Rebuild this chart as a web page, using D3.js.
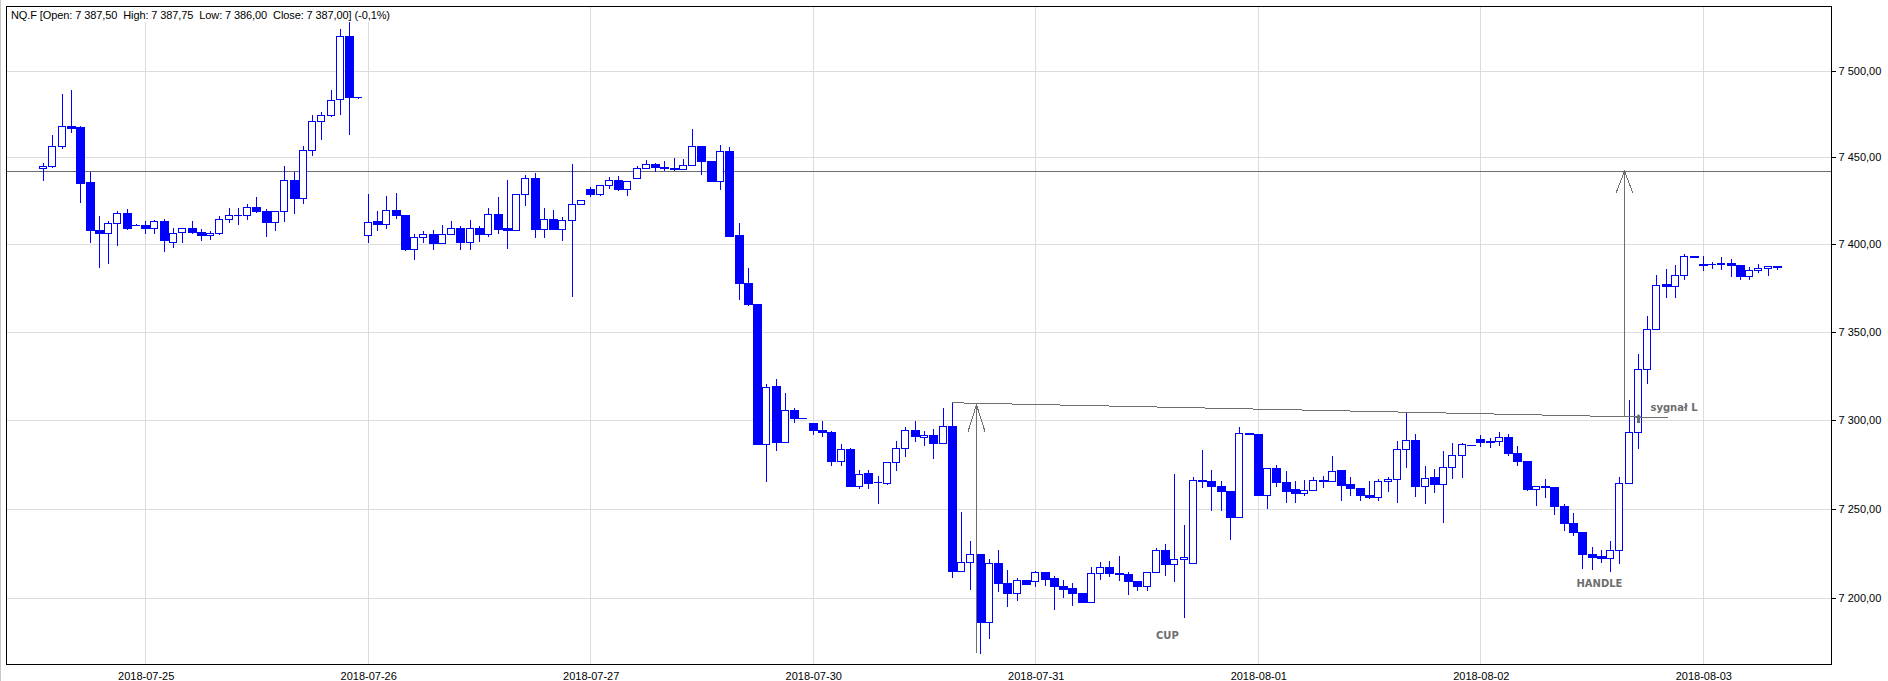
<!DOCTYPE html>
<html><head><meta charset="utf-8">
<script src="https://cdn.jsdelivr.net/npm/d3@7"></script>
<style>
html,body{margin:0;padding:0;background:#fff;}
svg{display:block;}
text{font-family:"Liberation Sans",Arial,sans-serif;}
</style></head><body>
<svg id="chart" width="1888" height="681"></svg>
<script>
// ---------- data ----------
const titleText = "NQ.F [Open: 7 387,50  High: 7 387,75  Low: 7 386,00  Close: 7 387,00] (-0,1%)";
const firstIndex = -11; // hourly bars, index 0 = 2018-07-25 00:00
const dayLabels = ["2018-07-25","2018-07-26","2018-07-27","2018-07-30","2018-07-31","2018-08-01","2018-08-02","2018-08-03"];
const dayStart  = [0,24,48,72,96,120,144,168];
const priceTicks = [7200,7250,7300,7350,7400,7450,7500];

const open = [
7444.0,7445.2,7456.4,7468.0,7467.6,7435.7,7408.0,7406.5,7412.3,7417.7,7411.3,
7411.3,7409.4,7413.4,7401.1,7407.1,7409.4,7407.1,7405.3,7406.3,7414.6,7416.9,7416.9,7421.2,7419.2,7412.7,7419.2,7436.7,7426.8,7454.1,7470.7,7474.4,7483.6,7520.0,7484.6,
7405.3,7413.1,7411.4,7419.4,7416.6,7397.5,7404.0,7406.1,7400.6,7405.7,7409.1,7401.5,7409.1,7406.1,7417.5,7409.3,7408.0,7429.1,7438.3,7408.6,7414.3,7408.6,7413.7,7423.4,
7432.0,7429.1,7434.3,7437.1,7431.8,7438.3,7444.0,7446.3,7444.6,7444.0,7443.2,7445.7,7456.6,7448.0,7436.4,7453.7,7405.1,7377.8,7366.1,7286.4,7319.2,7287.4,7305.6,7301.1,
7298.5,7294.5,7293.4,7277.2,7283.8,7262.7,7270.0,7265.0,7264.8,7276.3,7284.2,7294.5,7290.4,7291.5,7287.0,7296.6,7215.3,7220.3,7224.9,7187.0,7219.8,7208.4,7202.7,7210.1,
7209.7,7214.6,7211.2,7206.7,7205.6,7203.0,7197.8,7214.0,7217.4,7214.2,7213.7,7209.6,7206.7,7214.6,7227.0,7219.1,7221.9,7219.7,7266.5,7265.4,7263.1,7260.3,7245.5,7292.7,
7292.3,7257.7,7273.0,7265.2,7261.4,7258.8,7260.5,7266.3,7265.7,7271.9,7264.0,7262.0,7257.9,7256.6,7265.7,7266.9,7283.7,7288.8,7262.7,7268.0,7264.0,7273.6,7280.1,7286.2,
7289.3,7288.4,7288.4,7290.4,7281.5,7277.2,7261.0,7262.9,7262.4,7251.9,7242.1,7237.1,7224.7,7223.8,7222.5,7227.2,7264.7,7293.1,7328.9,7351.7,7377.4,7376.2,7382.5,7393.5,
7388.8,7388.6,7388.6,7389.2,7388.2,7381.7,7385.4,7386.5,7387.5];
const high = [
7446.5,7463.0,7486.7,7489.0,7468.2,7441.5,7416.5,7413.1,7418.9,7420.0,7411.5,
7413.6,7414.0,7414.8,7409.6,7409.6,7413.6,7409.0,7407.6,7416.0,7420.6,7420.6,7422.9,7427.2,7420.4,7419.2,7445.0,7441.7,7456.6,7474.6,7476.1,7489.1,7524.2,7529.0,7485.0,
7429.1,7419.0,7427.6,7429.3,7416.6,7405.9,7407.4,7408.2,7411.0,7413.3,7410.5,7413.9,7410.5,7421.1,7427.0,7437.1,7429.1,7439.6,7440.8,7421.1,7419.6,7415.6,7445.9,7425.7,
7433.0,7434.3,7438.5,7439.0,7436.6,7444.8,7448.2,7447.0,7447.6,7449.7,7448.8,7466.5,7456.6,7448.0,7457.3,7456.2,7412.1,7386.4,7366.1,7320.3,7323.2,7315.4,7306.8,7301.1,
7298.5,7299.6,7294.0,7286.4,7284.4,7271.8,7271.8,7268.6,7276.3,7288.1,7295.9,7299.6,7293.8,7295.1,7307.0,7309.8,7248.2,7231.8,7224.9,7221.7,7227.0,7216.0,7211.2,7210.1,
7215.5,7214.6,7212.5,7210.3,7208.4,7203.0,7217.4,7220.0,7221.0,7223.8,7214.6,7209.6,7214.6,7228.3,7230.2,7269.7,7241.2,7268.0,7283.3,7271.7,7265.4,7260.3,7296.1,7292.7,
7292.3,7273.0,7274.9,7271.5,7265.4,7266.5,7268.0,7268.5,7279.8,7271.9,7268.0,7262.0,7265.9,7267.0,7268.0,7288.4,7303.9,7292.3,7274.3,7272.7,7282.8,7287.3,7287.3,7286.2,
7291.6,7289.9,7293.4,7292.0,7285.6,7277.2,7262.9,7267.0,7262.4,7253.0,7247.8,7237.1,7228.7,7227.2,7232.2,7268.1,7311.4,7337.6,7359.3,7382.7,7385.6,7388.2,7394.5,7393.5,
7393.2,7390.1,7393.0,7391.8,7388.2,7387.3,7388.8,7387.5,7387.75];
const low = [
7437.2,7444.6,7455.6,7464.9,7424.3,7401.1,7387.1,7389.1,7399.5,7408.6,7411.0,
7406.7,7406.7,7396.4,7398.2,7401.1,7406.3,7402.2,7402.8,7405.7,7412.7,7411.9,7414.4,7418.5,7404.5,7408.0,7413.2,7417.9,7423.7,7451.4,7460.6,7473.6,7475.0,7463.5,7484.5,
7401.1,7408.2,7409.5,7415.2,7396.8,7391.8,7401.5,7397.5,7400.6,7405.7,7397.5,7397.5,7402.1,7404.8,7406.7,7398.1,7408.0,7422.7,7404.4,7404.4,7408.6,7402.7,7370.7,7423.4,
7427.8,7428.4,7432.2,7430.9,7428.4,7438.3,7444.0,7441.9,7442.5,7442.5,7443.2,7445.7,7440.6,7436.4,7431.8,7405.0,7368.6,7365.5,7286.4,7265.9,7283.4,7287.4,7299.2,7301.1,
7292.1,7291.0,7274.4,7274.7,7262.7,7262.0,7261.6,7253.5,7264.0,7271.6,7279.5,7288.1,7285.7,7278.5,7287.0,7211.7,7215.3,7205.1,7169.5,7178.0,7204.3,7195.9,7198.8,7207.9,
7206.6,7207.3,7194.2,7200.9,7196.4,7197.8,7197.8,7210.7,7212.2,7210.3,7202.6,7204.9,7204.9,7214.6,7212.9,7209.4,7189.7,7219.7,7262.2,7249.3,7249.3,7233.3,7245.5,7292.1,
7257.7,7250.4,7262.7,7253.7,7253.7,7258.0,7260.5,7262.2,7265.7,7254.9,7257.7,7254.9,7256.0,7254.9,7259.9,7253.7,7273.4,7257.1,7253.2,7259.4,7242.5,7267.2,7267.8,7286.0,
7285.2,7284.6,7285.8,7280.1,7274.5,7260.5,7252.1,7256.6,7247.0,7238.0,7235.6,7216.7,7216.1,7220.0,7215.5,7219.7,7264.7,7284.1,7320.9,7351.7,7369.8,7369.8,7380.0,7393.0,
7385.4,7386.3,7385.9,7381.7,7380.4,7380.4,7384.0,7382.7,7386.0];
const close = [
7445.2,7456.4,7468.0,7467.2,7435.3,7408.0,7406.5,7412.3,7417.7,7409.2,7411.3,
7409.2,7413.4,7402.2,7406.5,7409.4,7406.9,7405.3,7406.5,7414.6,7416.9,7417.0,7421.2,7419.1,7412.7,7419.2,7436.7,7426.8,7454.1,7470.7,7474.4,7482.9,7520.0,7484.6,7484.6,
7412.7,7411.4,7419.4,7416.6,7397.5,7404.0,7406.1,7400.6,7405.7,7409.1,7401.5,7409.1,7406.1,7417.5,7409.0,7408.0,7429.1,7438.3,7408.6,7414.3,7408.6,7413.7,7423.4,7425.7,
7429.1,7434.3,7437.1,7431.8,7436.6,7444.0,7446.3,7444.4,7443.8,7443.2,7445.7,7456.6,7447.8,7436.4,7453.5,7405.0,7377.6,7366.1,7286.4,7319.0,7287.4,7305.6,7301.1,7301.1,
7294.3,7293.2,7277.2,7283.6,7262.7,7269.5,7264.8,7265.0,7276.3,7284.2,7294.5,7290.8,7291.5,7287.0,7296.6,7215.3,7220.3,7224.9,7187.0,7219.8,7208.4,7202.7,7210.2,7207.9,
7214.6,7211.0,7206.6,7205.1,7202.8,7197.8,7214.0,7217.4,7214.0,7213.5,7209.6,7206.7,7214.6,7227.0,7219.1,7221.9,7223.0,7266.5,7265.4,7262.7,7260.1,7245.5,7292.7,7292.1,
7257.7,7273.0,7265.2,7259.9,7258.8,7260.5,7266.3,7265.7,7271.3,7263.3,7261.6,7257.7,7256.6,7265.7,7266.9,7283.7,7288.8,7262.7,7267.4,7264.0,7273.6,7280.1,7286.5,7286.0,
7287.6,7287.6,7290.4,7281.5,7276.8,7261.0,7262.9,7262.2,7251.5,7242.0,7237.1,7224.7,7223.0,7222.5,7227.2,7264.7,7293.1,7328.9,7351.7,7376.8,7376.2,7382.5,7393.3,7393.0,
7388.2,7388.6,7389.3,7388.2,7381.7,7385.4,7386.5,7387.5,7387.0];

// annotations (data space: bar index, price)
const targetLevel = 7442;
const rimLine = [{i:87, v:7309.8},{i:164.2, v:7301.4}];
const arrows = [{i:89.6, from:7169.5, to:7308.7},{i:159.5, from:7302.0, to:7442}];
const signalBar = {i:161, v:7303.2};
const notes = [
  {text:"CUP",      i:110.2, v:7177.4, anchor:"middle"},
  {text:"HANDLE",   i:156.8, v:7206.2, anchor:"middle"},
  {text:"sygnał L", i:162.3, v:7305.2, anchor:"start"}
];

// ---------- layout ----------
const W = 1888, H = 681;
const frame = {left:6.5, top:6.5, right:1831.5, bottom:664.5};
const BLUE = "#0000ff", GRID = "#dcdcdc", ANN = "#6e6e6e";

const x = d3.scaleLinear().domain([0,168]).range([145.7,1703.3]);
const y = d3.scaleLog().domain([7200,7500]).range([598.3,70.9]);
const px = v => Math.floor(x(v));
const py = v => Math.round(y(v));

const svg = d3.select("#chart");
svg.append("rect").attr("width",W).attr("height",H).attr("fill","#fff");
svg.append("defs").append("clipPath").attr("id","clip")
  .append("rect").attr("x",frame.left).attr("y",frame.top)
  .attr("width",frame.right-frame.left).attr("height",frame.bottom-frame.top);

// outer panel line
svg.append("line").attr("x1",0.5).attr("x2",0.5).attr("y1",0).attr("y2",H)
  .attr("stroke","#c8c8c8").attr("shape-rendering","crispEdges");

const plot = svg.append("g").attr("clip-path","url(#clip)").attr("shape-rendering","crispEdges");

// grid
plot.selectAll("line.hgrid").data(priceTicks).join("line").attr("class","hgrid")
  .attr("x1",frame.left).attr("x2",frame.right)
  .attr("y1",d=>py(d)+0.5).attr("y2",d=>py(d)+0.5)
  .attr("stroke",GRID);
plot.selectAll("line.vgrid").data(dayStart).join("line").attr("class","vgrid")
  .attr("x1",d=>px(d)+0.5).attr("x2",d=>px(d)+0.5)
  .attr("y1",frame.top).attr("y2",frame.bottom)
  .attr("stroke",GRID);

// target level line
plot.append("line").attr("x1",frame.left).attr("x2",frame.right)
  .attr("y1",py(targetLevel)+0.5).attr("y2",py(targetLevel)+0.5)
  .attr("stroke",ANN);

// candles
const bars = open.map((o,k)=>({i:firstIndex+k, o, h:high[k], l:low[k], c:close[k]}));
const cg = plot.append("g");
cg.selectAll("line.wick").data(bars).join("line").attr("class","wick")
  .attr("x1",d=>px(d.i)+0.5).attr("x2",d=>px(d.i)+0.5)
  .attr("y1",d=>py(d.h)).attr("y2",d=>py(d.l)+1)
  .attr("stroke",BLUE);
const down = bars.filter(d=>d.c<d.o);
const up = bars.filter(d=>d.c>=d.o);
cg.selectAll("rect.down").data(down).join("rect").attr("class","down")
  .attr("x",d=>px(d.i)-4).attr("y",d=>py(d.o))
  .attr("width",9).attr("height",d=>Math.max(1,py(d.c)-py(d.o)+1))
  .attr("fill",BLUE);
const upBody = up.filter(d=>py(d.o)-py(d.c)>=1);
const upFlat = up.filter(d=>py(d.o)-py(d.c)<1);
cg.selectAll("rect.up").data(upBody).join("rect").attr("class","up")
  .attr("x",d=>px(d.i)-3.5).attr("y",d=>py(d.c)+0.5)
  .attr("width",7).attr("height",d=>py(d.o)-py(d.c))
  .attr("fill","#fff").attr("stroke",BLUE);
cg.selectAll("line.flat").data(upFlat).join("line").attr("class","flat")
  .attr("x1",d=>px(d.i)-4).attr("x2",d=>px(d.i)+4)
  .attr("y1",d=>py(d.c)+0.5).attr("y2",d=>py(d.c)+0.5)
  .attr("stroke",BLUE);

// rim line
plot.append("line")
  .attr("x1",x(rimLine[0].i)).attr("y1",y(rimLine[0].v))
  .attr("x2",x(rimLine[1].i)).attr("y2",y(rimLine[1].v))
  .attr("stroke",ANN);

// arrows
const headLen = [27,22], headHalf = 8.5;
arrows.forEach((a,k)=>{
  const ax = px(a.i)+0.5, y0 = y(a.from), y1 = y(a.to);
  plot.append("line").attr("x1",ax).attr("x2",ax).attr("y1",y0).attr("y2",y1).attr("stroke",ANN);
  plot.append("path")
    .attr("d",`M${ax-headHalf},${y1+headLen[k]}L${ax},${y1}L${ax+headHalf},${y1+headLen[k]}`)
    .attr("fill","none").attr("stroke",ANN);
});

// signal arrow
{
  const sx = px(signalBar.i)+0.5, sy = py(signalBar.v);
  svg.append("path")
    .attr("d",`M${sx},${sy}L${sx+3.5},${sy+4}L${sx+1.5},${sy+4}L${sx+1.5},${sy+9}L${sx-1.5},${sy+9}L${sx-1.5},${sy+4}L${sx-3.5},${sy+4}Z`)
    .attr("fill",ANN);
}

// annotation texts
svg.selectAll("text.note").data(notes).join("text").attr("class","note")
  .attr("x",d=>x(d.i)).attr("y",d=>y(d.v))
  .attr("text-anchor",d=>d.anchor)
  .style("font-family","'DejaVu Sans',sans-serif").style("font-weight","bold")
  .style("font-size","10px").attr("fill",ANN)
  .text(d=>d.text);

// title box
svg.append("rect").attr("x",7).attr("y",7).attr("width",390).attr("height",15).attr("fill","#fff");
svg.append("text").attr("x",11).attr("y",19)
  .style("font-size","11px").style("white-space","pre")
  .attr("textLength",379).attr("lengthAdjust","spacing")
  .attr("fill","#000").text(titleText);

// frame
svg.append("rect").attr("x",frame.left).attr("y",frame.top)
  .attr("width",frame.right-frame.left).attr("height",frame.bottom-frame.top)
  .attr("fill","none").attr("stroke","#000").attr("shape-rendering","crispEdges");

// axes
const locale = d3.formatLocale({decimal:",", thousands:" ", grouping:[3], currency:["",""]});
const fmt = locale.format(",.2f");
const yAxis = d3.axisRight(y).tickValues(priceTicks).tickFormat(fmt).tickSize(4).tickPadding(3);
const ya = svg.append("g").attr("transform",`translate(${frame.right},0)`).call(yAxis);
ya.select(".domain").remove();
ya.selectAll(".tick").attr("transform",d=>`translate(0,${py(d)+0.5})`);
ya.selectAll("line").attr("stroke","#000").attr("shape-rendering","crispEdges");
ya.selectAll("text").style("font-family","'Liberation Sans',Arial,sans-serif").style("font-size","11px").attr("fill","#000");

const xAxis = d3.axisBottom(x).tickValues(dayStart).tickFormat((d,k)=>dayLabels[k]).tickSize(0).tickPadding(8);
const xa = svg.append("g").attr("transform",`translate(0,${frame.bottom})`).call(xAxis);
xa.select(".domain").remove();
xa.selectAll("text").style("font-family","'Liberation Sans',Arial,sans-serif").style("font-size","11px").attr("fill","#000");
</script>
</body></html>
